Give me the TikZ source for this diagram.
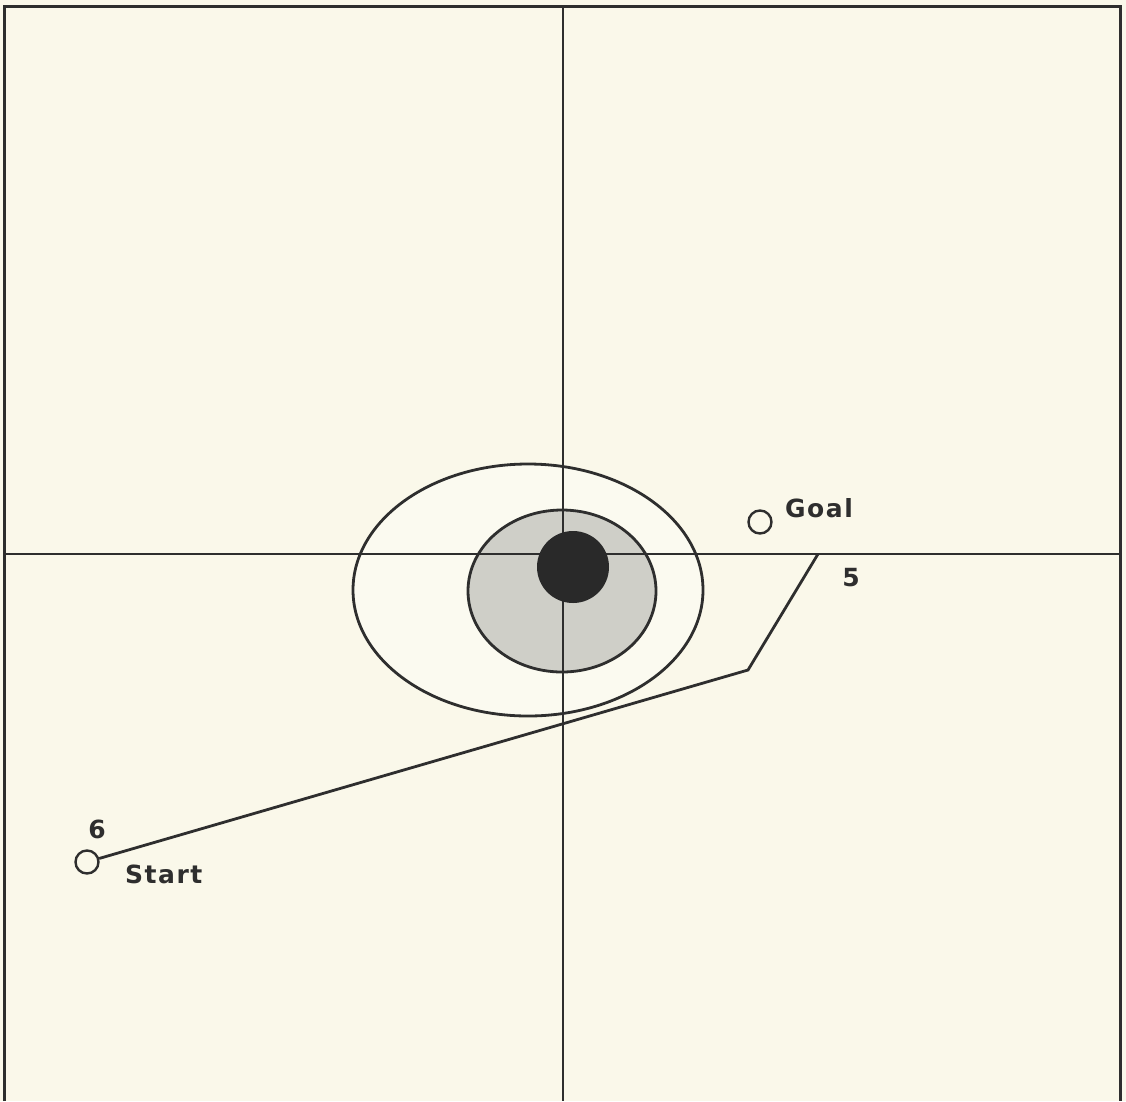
\documentclass[tikz,border=0pt]{standalone}
\usepackage{fontspec}
\setmainfont{DejaVu Sans}[LetterSpace=6]
\usepackage{tikz}
\usetikzlibrary{positioning}

\definecolor{paper}{HTML}{FAF8EA}
\definecolor{ink}{HTML}{2E2E2E}
\definecolor{halo}{HTML}{FBFAF0}
\definecolor{dots}{HTML}{CFCFC8}

\begin{document}
\begin{tikzpicture}[
        x=1pt, y=-1pt,
        font=\fontsize{25}{30}\selectfont\bfseries,
        frameline/.style={draw=ink, line width=3pt},
        axis/.style={draw=ink, line width=2.6pt},
        zone/.style={draw=ink, line width=2.8pt},
        wpt/.style={circle, draw=ink, line width=2.4pt, fill=paper, minimum size=23pt, inner sep=0pt},
        labelstyle/.style={text=ink, inner sep=0pt},
        route/.style={draw=ink, line width=2.8pt}
    ]

    % --- Canvas ---
    \fill[paper] (0,0) rectangle (1126,1101);
    \useasboundingbox (0,0) rectangle (1126,1101);

    % --- Threat zones ---
    \filldraw[zone, fill=halo] (528,590) ellipse [x radius=175, y radius=126];
    \filldraw[zone, fill=dots] (562,591) ellipse [x radius=94, y radius=81];

    % --- Axes ---
    \draw[axis] (4,554) -- (1120,554);
    \draw[axis] (563,6) -- (563,1101);

    % --- Core ---
    \fill[ink!90!black] (573,567) circle [radius=36];

    % --- Frame ---
    \draw[frameline] (4,1101) -- (4,6) -- (1120,6) -- (1120,1101);

    % --- Waypoints ---
    \node[wpt] (goal) at (760,522) {};
    \node[wpt] (start) at (87,862) {};
    \coordinate (wp5) at (818,554);
    \coordinate (bend) at (748,670);

    % --- Route ---
    \draw[route] (start) -- (bend) -- (wp5);

    % --- Labels ---
    \node[labelstyle, anchor=west] (goaltext) at (785,508) {Goal};
    \node[labelstyle] (five) at (851,578) {5};
    \node[labelstyle] (six) at (97,829) {6};
    \node[labelstyle, anchor=west] (starttext) at (125,874) {Start};

\end{tikzpicture}
\end{document}
